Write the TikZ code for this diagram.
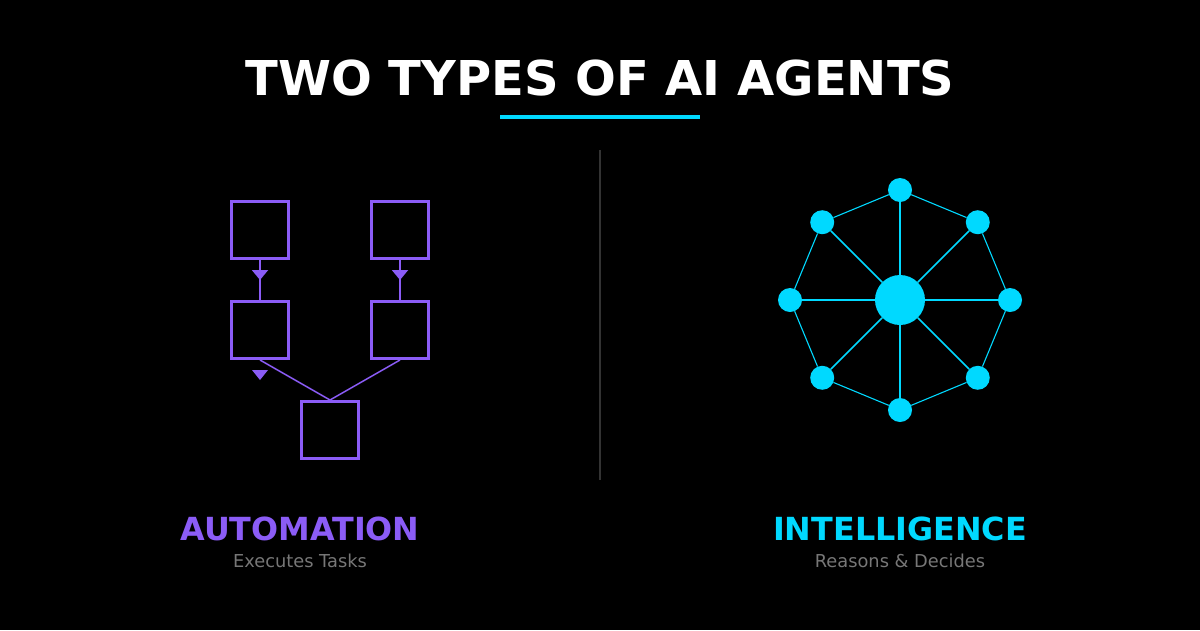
\documentclass[tikz,border=0pt]{standalone}
\usepackage{fontspec}
\setmainfont{DejaVu Sans}
\usetikzlibrary{arrows.meta,decorations.markings,calc}
\definecolor{purp}{HTML}{8B5CF6}
\definecolor{cyanish}{HTML}{00D9FF}
\definecolor{subgray}{HTML}{777777}
\definecolor{divgray}{HTML}{333333}
\begin{document}
\begin{tikzpicture}[x=1pt, y=-1pt,
    box/.style={draw=purp, line width=3pt, minimum size=57pt, inner sep=0pt},
    flow/.style={purp, line width=2pt, postaction={decorate},
      decoration={markings, mark=at position 0.5 with {\arrow{Triangle[width=16pt,length=10pt]}}}},
    merge/.style={purp, line width=1.5pt},
    hub/.style={circle, fill=cyanish, minimum size=50pt, inner sep=0pt},
    leaf/.style={circle, fill=cyanish, minimum size=24pt, inner sep=0pt},
    spoke/.style={cyanish, line width=1.6pt},
    ring/.style={cyanish, line width=1.1pt},
    heading/.style={font=\fontsize{31.8}{38}\selectfont\bfseries, anchor=base},
    caption/.style={font=\fontsize{17.8}{21}\selectfont, text=subgray, anchor=base}]
  \fill[black] (0,0) rectangle (1200,630);
  \useasboundingbox (0,0) rectangle (1200,630);
  % title
  \node[font=\fontsize{48}{56}\selectfont\bfseries, text=white, anchor=base] (title) at (600,95) {TWO TYPES OF AI AGENTS};
  \draw[cyanish, line width=4pt] (500,117) -- (700,117);
  \draw[divgray, line width=2pt] (600,150) -- (600,480);
  % automation
  \node[box] (tl) at (260,230) {};
  \node[box] (tr) at (400,230) {};
  \node[box] (ml) at (260,330) {};
  \node[box] (mr) at (400,330) {};
  \node[box] (bot) at (330,430) {};
  \draw[flow] (tl) -- (ml);
  \draw[flow] (tr) -- (mr);
  \draw[merge] (ml.south) -- (bot.north);
  \draw[merge] (mr.south) -- (bot.north);
  \fill[purp] (252,370) -- (268,370) -- (260,380) -- cycle;
  % intelligence
  \node[hub] (hub) at (900,300) {};
  \foreach \i in {0,...,7}
    \node[leaf] (n\i) at ($(hub)+(\i*45:110)$) {};
  \foreach \i in {0,...,7}
    \draw[spoke] (hub) -- (n\i);
  \foreach \i [evaluate=\i as \j using {int(mod(\i+1,8))}] in {0,...,7}
    \draw[ring] (n\i) -- (n\j);
  % labels
  \node[heading, text=purp] (autolbl) at (300,540) {AUTOMATION};
  \node[caption] (autosub) at (300,567) {Executes Tasks};
  \node[heading, text=cyanish] (intlbl) at (900,540) {INTELLIGENCE};
  \node[caption] (intsub) at (900,567) {Reasons \& Decides};
\end{tikzpicture}
\end{document}
